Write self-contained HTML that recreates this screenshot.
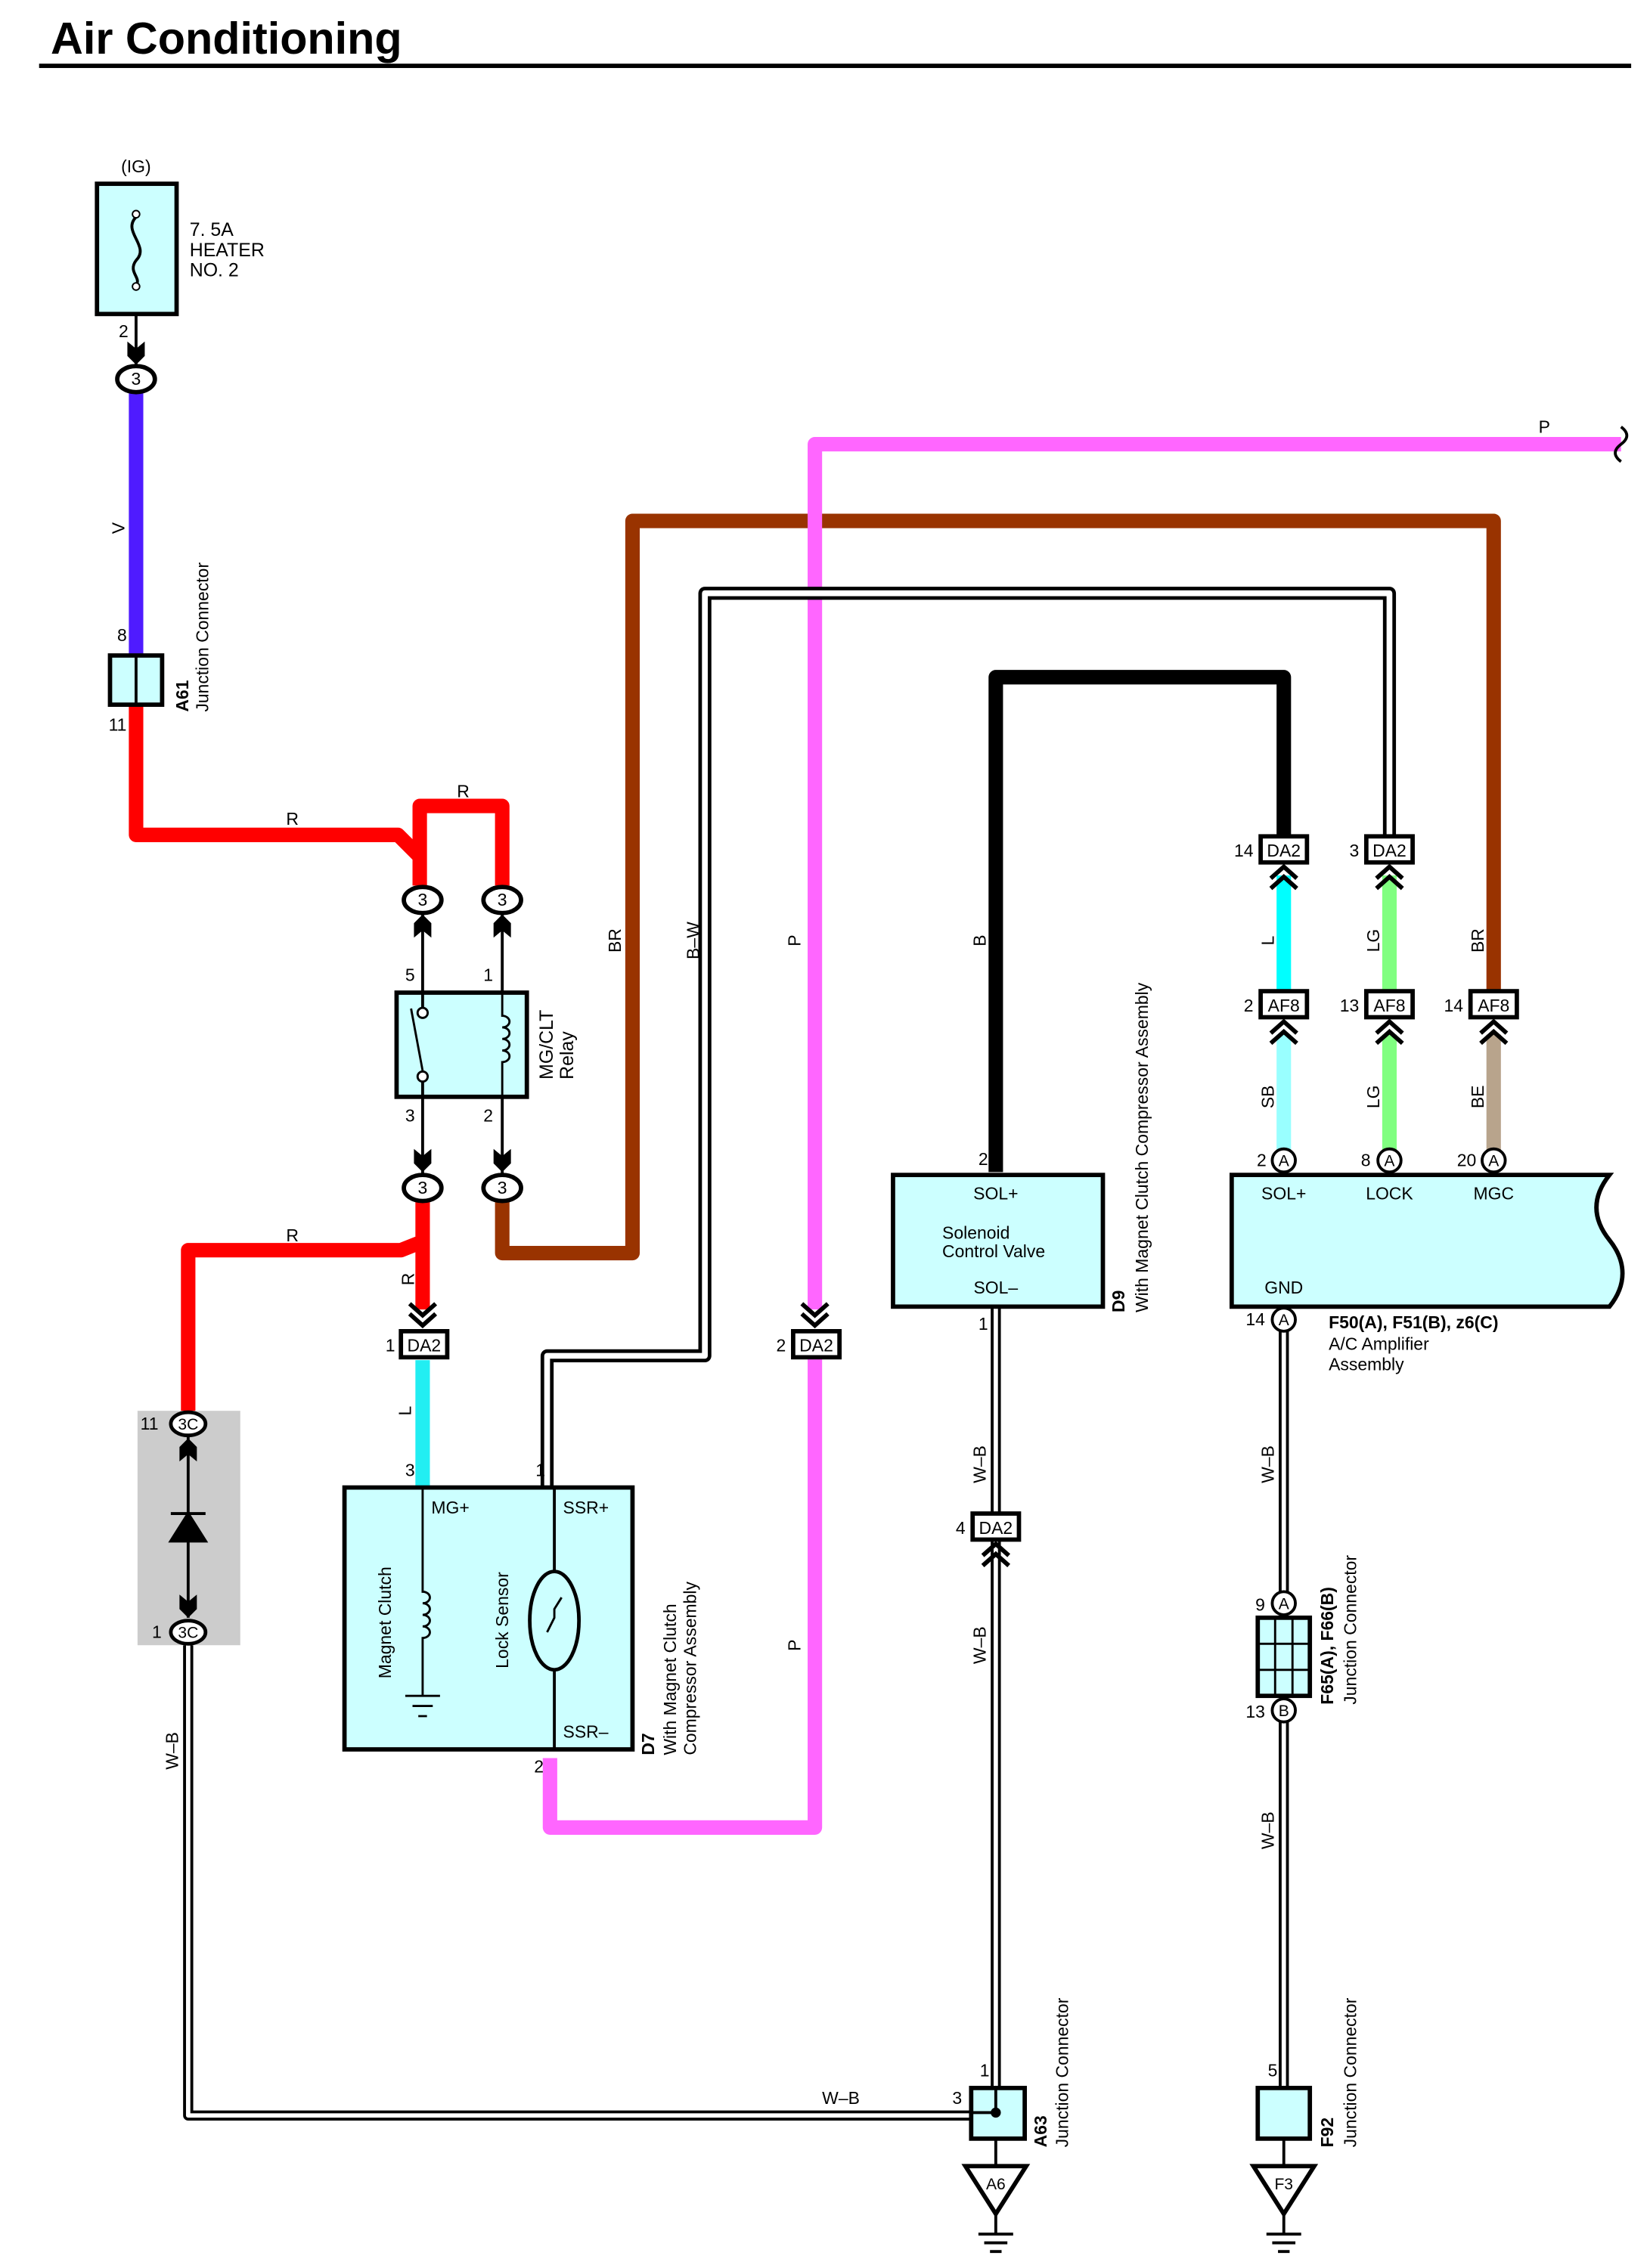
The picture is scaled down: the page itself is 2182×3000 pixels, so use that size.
<!DOCTYPE html>
<html><head><meta charset="utf-8"><style>
html,body{margin:0;padding:0;background:#fff}
svg{display:block}
text{font-family:"Liberation Sans",sans-serif;fill:#000}
</style></head><body>
<svg width="2182" height="3000" viewBox="0 0 1140 1567.4" xmlns="http://www.w3.org/2000/svg">
<defs>
<g id="arrDn"><path d="M-6,-8 L0,-3 L6,-8 L6,2 L0,8 L-6,2 Z" fill="#000"/></g>
<g id="arrUp"><path d="M-6,8 L0,3 L6,8 L6,-2 L0,-8 L-6,-2 Z" fill="#000"/></g>
<g id="chUp"><path d="M-9,2 L0,-6 L9,2 M-9,9 L0,1 L9,9" fill="none" stroke="#000" stroke-width="3"/></g>
<g id="chDn"><path d="M-9,-2 L0,6 L9,-2 M-9,-9 L0,-1 L9,-9" fill="none" stroke="#000" stroke-width="3"/></g>
</defs>
<!-- title -->
<text x="35" y="37" font-size="31" font-weight="bold">Air Conditioning</text>
<rect x="27" y="44" width="1100" height="3" fill="#000"/>

<!-- wires -->
<g fill="none" stroke-linejoin="round" stroke-linecap="butt">
<path d="M94,271 V455" stroke="#4f1bff" stroke-width="10"/>
<path d="M94,487 V577 H275 L290,592 V612 M290,592 V557 H347 V612" stroke="#ff0000" stroke-width="10"/>
<path d="M292,830 V858 L277,864 H130 V975 M292,858 V905" stroke="#ff0000" stroke-width="10"/>
<path d="M347,830 V866 H437 V360 H1032 V685" stroke="#993300" stroke-width="10"/>
<path d="M1120,307 H563 V905 M563,938 V1263 H380 V1215" stroke="#ff66ff" stroke-width="10"/>
<path d="M688,810 V468 H887 V578" stroke="#000" stroke-width="10"/>
<path d="M378,1028 V937 H487 V410 H960 V578" stroke="#000" stroke-width="9"/>
<path d="M378,1028 V937 H487 V410 H960 V578" stroke="#fff" stroke-width="4"/>
<path d="M292,940 V1028" stroke="#22eef2" stroke-width="10"/>
<path d="M887,605 V685" stroke="#00ffff" stroke-width="10"/>
<path d="M960,605 V685 M960,715 V795" stroke="#80ff80" stroke-width="10"/>
<path d="M887,715 V795" stroke="#99ffff" stroke-width="10"/>
<path d="M1032,715 V795" stroke="#b8a48c" stroke-width="10"/>
<path d="M688,903 V1443 M130,1137 V1462 H671 M887,920 V1100 M887,1190 V1443" stroke="#000" stroke-width="7"/>
<path d="M688,903 V1443 M130,1137 V1462 H671 M887,920 V1100 M887,1190 V1443" stroke="#fff" stroke-width="3"/>
<path d="M94,217 V254 M292,632 V686 M347,632 V686 M292,758 V812 M347,758 V812" stroke="#000" stroke-width="2"/>
</g>
<path d="M1120,295 q8,6 0,12 q-8,6 0,12" fill="none" stroke="#000" stroke-width="2"/>

<!-- fuse -->
<text x="94" y="119" font-size="12" text-anchor="middle">(IG)</text>
<rect x="67" y="127" width="55" height="90" fill="#ccffff" stroke="#000" stroke-width="3"/>
<path d="M94,150 c-10,10 10,20 0,30 c-6,8 4,12 0,17" fill="none" stroke="#000" stroke-width="2"/>
<circle cx="94" cy="148" r="2.5" fill="#fff" stroke="#000"/><circle cx="94" cy="198" r="2.5" fill="#fff" stroke="#000"/>
<text x="131" y="163" font-size="13">7. 5A</text><text x="131" y="177" font-size="13">HEATER</text><text x="131" y="191" font-size="13">NO. 2</text>
<text x="82" y="233" font-size="12">2</text>
<use href="#arrDn" x="94" y="244"/>

<!-- ovals -->
<g fill="#fff" stroke="#000" stroke-width="3">
<ellipse cx="94" cy="262" rx="13" ry="9"/>
<ellipse cx="292" cy="622" rx="13" ry="9"/><ellipse cx="347" cy="622" rx="13" ry="9"/>
<ellipse cx="292" cy="821" rx="13" ry="9"/><ellipse cx="347" cy="821" rx="13" ry="9"/>
</g>
<g font-size="12" text-anchor="middle">
<text x="94" y="266">3</text><text x="292" y="626">3</text><text x="347" y="626">3</text><text x="292" y="825">3</text><text x="347" y="825">3</text>
</g>
<text x="86" y="365" font-size="12" transform="rotate(-90 86 365)" text-anchor="middle">V</text>

<!-- A61 -->
<rect x="76" y="453" width="36" height="34" fill="#ccffff" stroke="#000" stroke-width="3"/>
<line x1="94" y1="453" x2="94" y2="487" stroke="#000" stroke-width="2"/>
<text x="81" y="443" font-size="12">8</text><text x="75" y="505" font-size="12">11</text>
<text transform="translate(130,492) rotate(-90)" font-size="12" font-weight="bold">A61</text>
<text transform="translate(144,492) rotate(-90)" font-size="12">Junction Connector</text>

<text x="202" y="570" font-size="12" text-anchor="middle">R</text>
<text x="320" y="551" font-size="12" text-anchor="middle">R</text>
<use href="#arrUp" x="292" y="640"/><use href="#arrUp" x="347" y="640"/>
<text x="280" y="678" font-size="12">5</text><text x="334" y="678" font-size="12">1</text>
<!-- relay -->
<rect x="274" y="686" width="90" height="72" fill="#ccffff" stroke="#000" stroke-width="3"/>
<circle cx="292" cy="700" r="3.5" fill="#fff" stroke="#000" stroke-width="1.5"/>
<circle cx="292" cy="744" r="3.5" fill="#fff" stroke="#000" stroke-width="1.5"/>
<line x1="284" y1="697" x2="292" y2="740" stroke="#000" stroke-width="1.5"/>
<line x1="292" y1="686" x2="292" y2="697" stroke="#000" stroke-width="2"/>
<line x1="292" y1="747" x2="292" y2="758" stroke="#000" stroke-width="2"/>
<path d="M347,686 V702 a5,4 0 0 1 0,8 a5,4 0 0 1 0,8 a5,4 0 0 1 0,8 a5,4 0 0 1 0,8 V758" fill="none" stroke="#000" stroke-width="1.5"/>
<text transform="translate(382,746) rotate(-90)" font-size="13">MG/CLT</text>
<text transform="translate(396,746) rotate(-90)" font-size="13">Relay</text>
<text x="280" y="775" font-size="12">3</text><text x="334" y="775" font-size="12">2</text>
<use href="#arrDn" x="292" y="802"/><use href="#arrDn" x="347" y="802"/>
<text x="202" y="858" font-size="12" text-anchor="middle">R</text>
<text transform="translate(286,884) rotate(-90)" font-size="12" text-anchor="middle">R</text>
<text transform="translate(429,650) rotate(-90)" font-size="12" text-anchor="middle">BR</text>
<text transform="translate(483,650) rotate(-90)" font-size="12" text-anchor="middle">B–W</text>
<text transform="translate(553,650) rotate(-90)" font-size="12" text-anchor="middle">P</text>
<text transform="translate(553,1137) rotate(-90)" font-size="12" text-anchor="middle">P</text>
<text x="1067" y="299" font-size="12" text-anchor="middle">P</text>
<text transform="translate(681,650) rotate(-90)" font-size="12" text-anchor="middle">B</text>

<!-- DA2 boxes -->
<g fill="#fff" stroke="#000" stroke-width="3">
<rect x="277" y="920" width="32" height="18"/><rect x="548" y="920" width="32" height="18"/>
<rect x="871" y="578" width="32" height="18"/><rect x="944" y="578" width="32" height="18"/>
<rect x="871" y="685" width="32" height="18"/><rect x="944" y="685" width="32" height="18"/><rect x="1016" y="685" width="32" height="18"/>
<rect x="672" y="1046" width="32" height="18"/>
</g>
<g font-size="12" text-anchor="middle">
<text x="293" y="934">DA2</text><text x="564" y="934">DA2</text>
<text x="887" y="592">DA2</text><text x="960" y="592">DA2</text>
<text x="887" y="699">AF8</text><text x="960" y="699">AF8</text><text x="1032" y="699">AF8</text>
<text x="688" y="1060">DA2</text>
</g>
<g font-size="12" text-anchor="end">
<text x="273" y="934">1</text><text x="543" y="934">2</text><text x="866" y="592">14</text><text x="939" y="592">3</text>
<text x="866" y="699">2</text><text x="939" y="699">13</text><text x="1011" y="699">14</text><text x="667" y="1060">4</text>
</g>
<use href="#chDn" x="292" y="910"/><use href="#chDn" x="563" y="910"/>
<use href="#chUp" x="887" y="605"/><use href="#chUp" x="960" y="605"/>
<use href="#chUp" x="887" y="712"/><use href="#chUp" x="960" y="712"/><use href="#chUp" x="1032" y="712"/>
<use href="#chUp" x="688" y="1073"/>
<g font-size="12" text-anchor="middle">
<text transform="translate(880,650) rotate(-90)">L</text><text transform="translate(953,650) rotate(-90)">LG</text><text transform="translate(1025,650) rotate(-90)">BR</text>
<text transform="translate(880,758) rotate(-90)">SB</text><text transform="translate(953,758) rotate(-90)">LG</text><text transform="translate(1025,758) rotate(-90)">BE</text>
<text transform="translate(284,975) rotate(-90)">L</text>
<text transform="translate(681,1012) rotate(-90)">W–B</text><text transform="translate(681,1137) rotate(-90)">W–B</text>
<text transform="translate(880,1012) rotate(-90)">W–B</text><text transform="translate(880,1265) rotate(-90)">W–B</text>
<text transform="translate(123,1210) rotate(-90)">W–B</text>
<text x="581" y="1454">W–B</text>
</g>

<!-- A circles -->
<g fill="#fff" stroke="#000" stroke-width="2">
<circle cx="887" cy="802" r="8"/><circle cx="960" cy="802" r="8"/><circle cx="1032" cy="802" r="8"/>
<circle cx="887" cy="912" r="8"/><circle cx="887" cy="1108" r="8"/><circle cx="887" cy="1182" r="8"/>
</g>
<g font-size="11" text-anchor="middle">
<text x="887" y="806">A</text><text x="960" y="806">A</text><text x="1032" y="806">A</text><text x="887" y="916">A</text><text x="887" y="1112">A</text><text x="887" y="1186">B</text>
</g>
<g font-size="12" text-anchor="end">
<text x="875" y="806">2</text><text x="947" y="806">8</text><text x="1020" y="806">20</text><text x="874" y="916">14</text><text x="874" y="1113">9</text><text x="874" y="1187">13</text>
</g>

<!-- amplifier -->
<path d="M851,812 H1112 c-12,15 -12,30 0,45 c12,15 12,31 0,46 H851 Z" fill="#ccffff" stroke="#000" stroke-width="3"/>
<g font-size="12" text-anchor="middle"><text x="887" y="829">SOL+</text><text x="960" y="829">LOCK</text><text x="1032" y="829">MGC</text><text x="887" y="894">GND</text></g>
<text x="918" y="918" font-size="12" font-weight="bold">F50(A), F51(B), z6(C)</text>
<text x="918" y="933" font-size="12">A/C Amplifier</text><text x="918" y="947" font-size="12">Assembly</text>

<!-- solenoid -->
<rect x="617" y="812" width="145" height="91" fill="#ccffff" stroke="#000" stroke-width="3"/>
<text x="688" y="829" font-size="12" text-anchor="middle">SOL+</text>
<text x="651" y="856" font-size="12">Solenoid</text><text x="651" y="869" font-size="12">Control Valve</text>
<text x="688" y="894" font-size="12" text-anchor="middle">SOL–</text>
<text x="676" y="805" font-size="12">2</text><text x="676" y="919" font-size="12">1</text>
<text transform="translate(777,907) rotate(-90)" font-size="12" font-weight="bold">D9</text>
<text transform="translate(793,907) rotate(-90)" font-size="12">With Magnet Clutch Compressor Assembly</text>

<!-- D7 -->
<rect x="238" y="1028" width="199" height="181" fill="#ccffff" stroke="#000" stroke-width="3"/>
<line x1="383" y1="1028" x2="383" y2="1209" stroke="#000" stroke-width="2"/>
<text x="298" y="1046" font-size="12">MG+</text><text x="389" y="1046" font-size="12">SSR+</text><text x="389" y="1201" font-size="12">SSR–</text>
<text x="280" y="1020" font-size="12">3</text><text x="370" y="1020" font-size="12">1</text><text x="369" y="1225" font-size="12">2</text>
<path d="M292,1028 V1100 a5,4 0 0 1 0,8 a5,4 0 0 1 0,8 a5,4 0 0 1 0,8 a5,4 0 0 1 0,8 V1172 M280,1172 H304 M285,1179 H299 M289,1186 H295" fill="none" stroke="#000" stroke-width="1.5"/>
<ellipse cx="383" cy="1120" rx="17" ry="34" fill="#ccffff" stroke="#000" stroke-width="2.5"/>
<path d="M378,1128 L383,1118 V1112 L388,1104" fill="none" stroke="#000" stroke-width="1.5"/>
<text transform="translate(270,1160) rotate(-90)" font-size="12">Magnet Clutch</text>
<text transform="translate(351,1153) rotate(-90)" font-size="12">Lock Sensor</text>
<text transform="translate(452,1213) rotate(-90)" font-size="12" font-weight="bold">D7</text>
<text transform="translate(467,1213) rotate(-90)" font-size="12">With Magnet Clutch</text>
<text transform="translate(481,1213) rotate(-90)" font-size="12">Compressor Assembly</text>

<!-- diode block -->
<rect x="95" y="975" width="71" height="162" fill="#cccccc"/>
<line x1="130" y1="992" x2="130" y2="1118" stroke="#000" stroke-width="2"/>
<ellipse cx="130" cy="984" rx="12" ry="8" fill="#fff" stroke="#000" stroke-width="2.5"/>
<ellipse cx="130" cy="1128" rx="12" ry="8" fill="#fff" stroke="#000" stroke-width="2.5"/>
<text x="130" y="988" font-size="11" text-anchor="middle">3C</text><text x="130" y="1132" font-size="11" text-anchor="middle">3C</text>
<text x="97" y="988" font-size="12">11</text><text x="105" y="1132" font-size="12">1</text>
<use href="#arrUp" x="130" y="1002"/>
<path d="M118,1065 H142 L130,1046 Z M118,1046 H142" fill="#000" stroke="#000" stroke-width="2"/>
<use href="#arrDn" x="130" y="1110"/>

<!-- A63 -->
<rect x="671" y="1443" width="37" height="35" fill="#ccffff" stroke="#000" stroke-width="3"/>
<circle cx="688" cy="1460" r="3.5" fill="#000"/>
<line x1="688" y1="1443" x2="688" y2="1460" stroke="#000" stroke-width="2"/><line x1="671" y1="1460" x2="688" y2="1460" stroke="#000" stroke-width="2"/>
<text x="677" y="1435" font-size="12">1</text><text x="658" y="1454" font-size="12">3</text>
<text transform="translate(723,1484) rotate(-90)" font-size="12" font-weight="bold">A63</text>
<text transform="translate(738,1484) rotate(-90)" font-size="12">Junction Connector</text>
<!-- F92 -->
<rect x="869" y="1443" width="36" height="35" fill="#ccffff" stroke="#000" stroke-width="3"/>
<text x="876" y="1435" font-size="12">5</text>
<text transform="translate(921,1484) rotate(-90)" font-size="12" font-weight="bold">F92</text>
<text transform="translate(937,1484) rotate(-90)" font-size="12">Junction Connector</text>
<!-- F65 -->
<rect x="869" y="1118" width="36" height="54" fill="#ccffff" stroke="#000" stroke-width="3"/>
<path d="M881,1118 V1172 M893,1118 V1172 M869,1136 H905 M869,1154 H905" stroke="#000" stroke-width="1.5"/>
<line x1="887" y1="1116" x2="887" y2="1118" stroke="#000"/>
<text transform="translate(921,1178) rotate(-90)" font-size="12" font-weight="bold">F65(A), F66(B)</text>
<text transform="translate(937,1178) rotate(-90)" font-size="12">Junction Connector</text>

<!-- grounds -->
<g fill="#fff" stroke="#000" stroke-width="3">
<path d="M667,1497 H709 L688,1530 Z"/><path d="M866,1497 H908 L887,1530 Z"/>
</g>
<line x1="688" y1="1478" x2="688" y2="1497" stroke="#000" stroke-width="2"/>
<line x1="887" y1="1478" x2="887" y2="1497" stroke="#000" stroke-width="2"/>
<text x="688" y="1513" font-size="11" text-anchor="middle">A6</text><text x="887" y="1513" font-size="11" text-anchor="middle">F3</text>
<path d="M688,1530 V1544 M676,1544 H700 M680,1550 H696 M684,1556 H692 M887,1530 V1544 M875,1544 H899 M879,1550 H895 M883,1556 H891" stroke="#000" stroke-width="2" fill="none"/>
</svg>
</body></html>
